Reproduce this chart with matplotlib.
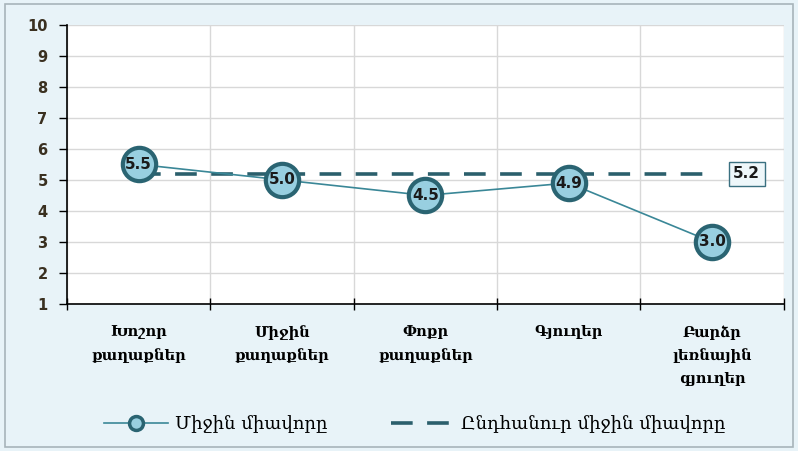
import numpy as np
import matplotlib.pyplot as plt
from matplotlib.patches import Rectangle

categories = ["Խոշոր\nքաղաքներ", "Միջին\nքաղաքներ", "Փոքր\nքաղաքներ",
              "Գյուղեր", "Բարձր\nլեռնային\nգյուղեր"]
mean_scores = [5.5, 5.0, 4.5, 4.9, 3.0]
overall_mean = 5.2
y_ticks = [1, 2, 3, 4, 5, 6, 7, 8, 9, 10]
legend_labels = ["Միջին միավորը", "Ընդհանուր միջին միավորը"]

bg = "#e8f3f8"
fig = plt.figure(figsize=(7.98, 4.51), dpi=100, facecolor=bg)
fig.patches.append(Rectangle((0.006, 0.008), 0.988, 0.984, transform=fig.transFigure,
                             fill=False, edgecolor="#a8b4ba", lw=1.2))
ax = fig.add_axes([0.084, 0.326, 0.898, 0.619])
ax.set_facecolor("white")

x = np.arange(len(categories))
ax.set_xlim(-0.5, len(categories) - 0.5)
ax.set_ylim(1, 10)

avg_line, = ax.plot([x[0], x[-1]], [overall_mean] * 2, color="#2b5f6c", lw=2.6,
                    dashes=(6, 4), zorder=2)
main_line, = ax.plot(x, mean_scores, color="#3a8797", lw=1.2, marker="o", markersize=24,
                     markerfacecolor="#98cfe0", markeredgecolor="#2a6472",
                     markeredgewidth=3, zorder=3)

for xi, v in zip(x, mean_scores):
    ax.text(xi, v, f"{v:.1f}", ha="center", va="center", fontsize=11,
            fontweight="bold", color="#1a1a1a", zorder=4)

ax.annotate(f"{overall_mean:.1f}", xy=(x[-1], overall_mean), xytext=(25, 0),
            textcoords="offset points", ha="center", va="center", fontsize=11,
            fontweight="bold", color="#1a1a1a",
            bbox=dict(boxstyle="square,pad=0.3", fc="#eef7fa", ec="#3a7080", lw=1))

ax.set_yticks(y_ticks)
ax.set_yticklabels([str(t) for t in y_ticks], fontsize=10.5, fontweight="bold",
                   color="#3a3020")
ax.set_xticks(x)
ax.set_xticklabels(categories, fontsize=10.5, fontweight="bold", family="DejaVu Serif",
                   linespacing=1.75, va="top")
ax.tick_params(axis="x", length=0, pad=15)
ax.set_xticks(np.arange(-0.5, len(categories)), minor=True)
ax.tick_params(axis="x", which="minor", direction="inout", length=8, width=1)
ax.tick_params(axis="y", direction="out", length=6, width=1, pad=8)

ax.grid(axis="y", color="#d8d8d8", lw=1)
ax.grid(axis="x", which="minor", color="#d8d8d8", lw=1)
ax.set_axisbelow(True)
for s in ["top", "right"]:
    ax.spines[s].set_visible(False)
for s in ["left", "bottom"]:
    ax.spines[s].set_color("black")
    ax.spines[s].set_linewidth(1.2)

leg_main, = ax.plot([], [], color="#3a8797", lw=1.2, marker="o", markersize=10,
                    markerfacecolor="#98cfe0", markeredgecolor="#2a6472",
                    markeredgewidth=2.5)
fig.legend([leg_main, avg_line], legend_labels, loc="center", bbox_to_anchor=(0.52, 0.06),
           ncol=2, frameon=False, columnspacing=3.5, handlelength=3.5, handletextpad=0.4,
           prop={"family": "DejaVu Serif", "size": 13})

fig.savefig("out.png", dpi=100, facecolor=bg)
